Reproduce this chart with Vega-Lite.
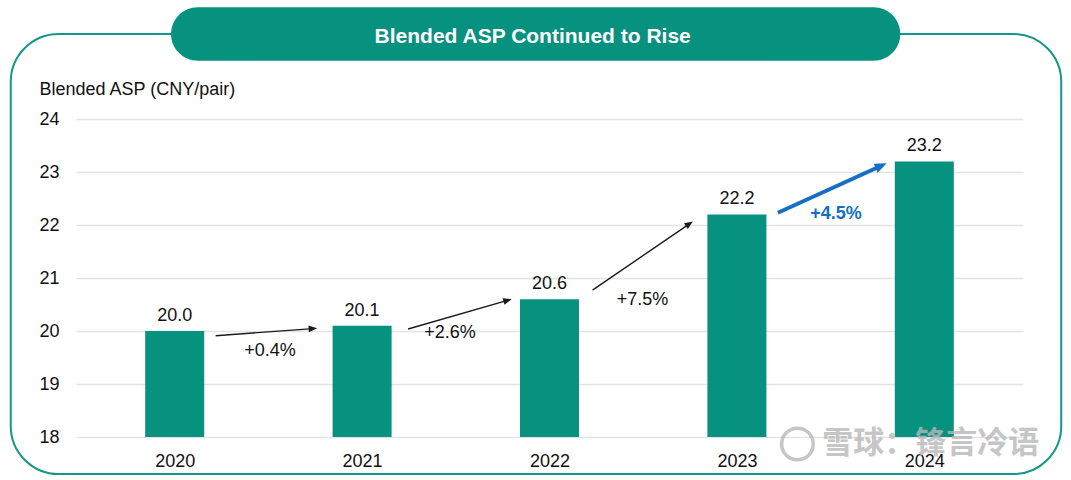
{
  "$schema": "https://vega.github.io/schema/vega-lite/v6.json",
  "width": 947,
  "height": 318,
  "autosize": {"type": "none"},
  "padding": {"left": 76, "top": 119, "right": 48, "bottom": 43},
  "background": "white",
  "config": {"view": {"stroke": null}, "font": "Liberation Sans"},
  "datasets": {
    "asp": [
      {"year": 2020, "asp": 20.0},
      {"year": 2021, "asp": 20.1},
      {"year": 2022, "asp": 20.6},
      {"year": 2023, "asp": 22.2},
      {"year": 2024, "asp": 23.2}
    ],
    "changes": [
      {"from": 2020, "to": 2021, "v0": 20.0, "v1": 20.1, "label": "+0.4%"},
      {"from": 2021, "to": 2022, "v0": 20.1, "v1": 20.6, "label": "+2.6%"},
      {"from": 2022, "to": 2023, "v0": 20.6, "v1": 22.2, "label": "+7.5%"},
      {"from": 2023, "to": 2024, "v0": 22.2, "v1": 23.2, "label": "+4.5%"}
    ],
    "one": [{}]
  },
  "layer": [
    {
      "data": {"name": "asp"},
      "mark": {"type": "bar", "color": "#07917f", "width": 59},
      "encoding": {
        "x": {
          "field": "year", "type": "quantitative",
          "scale": {"domain": [2019.5, 2024.5], "nice": false, "zero": false},
          "axis": {
            "values": [2020, 2021, 2022, 2023, 2024], "format": "d", "title": null,
            "labelFontSize": 18, "labelColor": "#111", "ticks": false, "domain": false,
            "grid": false, "labelPadding": 15, "labelFlush": false
          }
        },
        "y": {
          "field": "asp", "type": "quantitative",
          "scale": {"domain": [18, 24], "nice": false, "zero": false},
          "axis": {
            "values": [18, 19, 20, 21, 22, 23, 24],
            "title": "Blended ASP (CNY/pair)", "titleAngle": 0, "titleAlign": "left",
            "titleBaseline": "alphabetic", "titleX": -37, "titleY": -25,
            "titleFontSize": 18, "titleFontWeight": "normal", "titleColor": "#111",
            "labelFontSize": 18, "labelColor": "#111", "labelPadding": 17,
            "ticks": false, "domain": false, "grid": true, "gridColor": "#e3e3e3", "gridWidth": 1.3
          }
        },
        "y2": {"datum": 18}
      }
    },
    {
      "data": {"name": "asp"},
      "mark": {"type": "text", "fontSize": 18, "color": "#111", "align": "center", "baseline": "alphabetic", "dy": -10},
      "encoding": {
        "x": {"field": "year", "type": "quantitative"},
        "y": {"field": "asp", "type": "quantitative"},
        "text": {"field": "asp", "type": "quantitative", "format": ".1f"}
      }
    },
    {
      "data": {"name": "one"},
      "mark": {"type": "rect", "fill": "transparent", "stroke": "#159686", "strokeWidth": 2, "cornerRadius": 48, "clip": false},
      "encoding": {
        "x": {"datum": 2019.1251, "type": "quantitative"},
        "x2": {"datum": 2024.7307},
        "y": {"datum": 25.604, "type": "quantitative"},
        "y2": {"datum": 17.302}
      }
    },
    {
      "data": {"name": "one"},
      "mark": {"type": "rect", "fill": "#07917f", "cornerRadius": 26.7, "clip": false},
      "encoding": {
        "x": {"datum": 2019.9805, "type": "quantitative"},
        "x2": {"datum": 2023.8717},
        "y": {"datum": 26.1075, "type": "quantitative"},
        "y2": {"datum": 25.1}
      }
    },
    {
      "data": {"name": "one"},
      "mark": {"type": "text", "color": "white", "fontSize": 21, "fontWeight": "bold", "align": "center", "baseline": "alphabetic", "clip": false},
      "encoding": {
        "x": {"datum": 2021.9103, "type": "quantitative"},
        "y": {"datum": 25.428, "type": "quantitative"},
        "text": {"value": "Blended ASP Continued to Rise"}
      }
    },
    {
      "data": {"name": "changes"},
      "transform": [{"filter": "datum.from == 2020"}],
      "layer": [
        {
          "mark": {"type": "rule", "color": "#1a1a1a", "strokeWidth": 1.4, "xOffset": 41, "yOffset": 4.7, "x2Offset": -49, "y2Offset": 2.9},
          "encoding": {
            "x": {"field": "from", "type": "quantitative"},
            "x2": {"field": "to"},
            "y": {"field": "v0", "type": "quantitative"},
            "y2": {"field": "v1"}
          }
        },
        {
          "mark": {"type": "point", "shape": "M1,0L-1,-0.8L-1,0.8Z", "filled": true, "opacity": 1, "color": "#1a1a1a", "size": 72, "angle": 356, "xOffset": -49.2, "yOffset": 2.9},
          "encoding": {
            "x": {"field": "to", "type": "quantitative"},
            "y": {"field": "v1", "type": "quantitative"}
          }
        },
        {
          "mark": {"type": "text", "fontSize": 18, "color": "#111", "align": "center", "baseline": "middle", "dx": 95.3, "dy": 20},
          "encoding": {
            "x": {"field": "from", "type": "quantitative"},
            "y": {"field": "v0", "type": "quantitative"},
            "text": {"field": "label"}
          }
        }
      ]
    },
    {
      "data": {"name": "changes"},
      "transform": [{"filter": "datum.from == 2021"}],
      "layer": [
        {
          "mark": {"type": "rule", "color": "#1a1a1a", "strokeWidth": 1.4, "xOffset": 46, "yOffset": 3.3, "x2Offset": -42, "y2Offset": 1.2},
          "encoding": {
            "x": {"field": "from", "type": "quantitative"},
            "x2": {"field": "to"},
            "y": {"field": "v0", "type": "quantitative"},
            "y2": {"field": "v1"}
          }
        },
        {
          "mark": {"type": "point", "shape": "M1,0L-1,-0.8L-1,0.8Z", "filled": true, "opacity": 1, "color": "#1a1a1a", "size": 72, "angle": 344, "xOffset": -41.9, "yOffset": 1.2},
          "encoding": {
            "x": {"field": "to", "type": "quantitative"},
            "y": {"field": "v1", "type": "quantitative"}
          }
        },
        {
          "mark": {"type": "text", "fontSize": 18, "color": "#111", "align": "center", "baseline": "middle", "dx": 87.9, "dy": 6.8},
          "encoding": {
            "x": {"field": "from", "type": "quantitative"},
            "y": {"field": "v0", "type": "quantitative"},
            "text": {"field": "label"}
          }
        }
      ]
    },
    {
      "data": {"name": "changes"},
      "transform": [{"filter": "datum.from == 2022"}],
      "layer": [
        {
          "mark": {"type": "rule", "color": "#1a1a1a", "strokeWidth": 1.4, "xOffset": 43, "yOffset": -9, "x2Offset": -47.5, "y2Offset": 9.4},
          "encoding": {
            "x": {"field": "from", "type": "quantitative"},
            "x2": {"field": "to"},
            "y": {"field": "v0", "type": "quantitative"},
            "y2": {"field": "v1"}
          }
        },
        {
          "mark": {"type": "point", "shape": "M1,0L-1,-0.8L-1,0.8Z", "filled": true, "opacity": 1, "color": "#1a1a1a", "size": 72, "angle": 326, "xOffset": -47.5, "yOffset": 9.4},
          "encoding": {
            "x": {"field": "to", "type": "quantitative"},
            "y": {"field": "v1", "type": "quantitative"}
          }
        },
        {
          "mark": {"type": "text", "fontSize": 18, "color": "#111", "align": "center", "baseline": "middle", "dx": 93, "dy": 0.3},
          "encoding": {
            "x": {"field": "from", "type": "quantitative"},
            "y": {"field": "v0", "type": "quantitative"},
            "text": {"field": "label"}
          }
        }
      ]
    },
    {
      "data": {"name": "changes"},
      "transform": [{"filter": "datum.from == 2023"}],
      "layer": [
        {
          "mark": {"type": "rule", "color": "#1570c4", "strokeWidth": 4, "xOffset": 41, "yOffset": -1.7, "x2Offset": -43, "y2Offset": 4.4},
          "encoding": {
            "x": {"field": "from", "type": "quantitative"},
            "x2": {"field": "to"},
            "y": {"field": "v0", "type": "quantitative"},
            "y2": {"field": "v1"}
          }
        },
        {
          "mark": {"type": "point", "shape": "M1,0L-1,-0.8L-1,0.8Z", "filled": true, "opacity": 1, "color": "#1570c4", "size": 144, "angle": 336, "xOffset": -43.1, "yOffset": 4.4},
          "encoding": {
            "x": {"field": "to", "type": "quantitative"},
            "y": {"field": "v1", "type": "quantitative"}
          }
        },
        {
          "mark": {"type": "text", "fontSize": 18, "fontWeight": "bold", "color": "#1570c4", "align": "center", "baseline": "middle", "dx": 99, "dy": -0.7},
          "encoding": {
            "x": {"field": "from", "type": "quantitative"},
            "y": {"field": "v0", "type": "quantitative"},
            "text": {"field": "label"}
          }
        }
      ]
    },
    {
      "data": {"name": "one"},
      "mark": {"type": "point", "shape": "circle", "filled": false, "color": "#b8b8b8", "strokeWidth": 3.5, "size": 1000, "opacity": 0.8, "clip": false},
      "encoding": {
        "x": {"datum": 2023.323, "type": "quantitative"},
        "y": {"datum": 17.868, "type": "quantitative"}
      }
    },
    {
      "data": {"name": "one"},
      "mark": {"type": "text", "font": "Noto Sans CJK SC", "fontSize": 31, "fontWeight": "bold", "color": "#b8b8b8", "opacity": 0.8, "align": "left", "baseline": "middle", "clip": false},
      "encoding": {
        "x": {"datum": 2023.455, "type": "quantitative"},
        "y": {"datum": 17.868, "type": "quantitative"},
        "text": {"value": "雪球：锋言冷语"}
      }
    }
  ]
}
